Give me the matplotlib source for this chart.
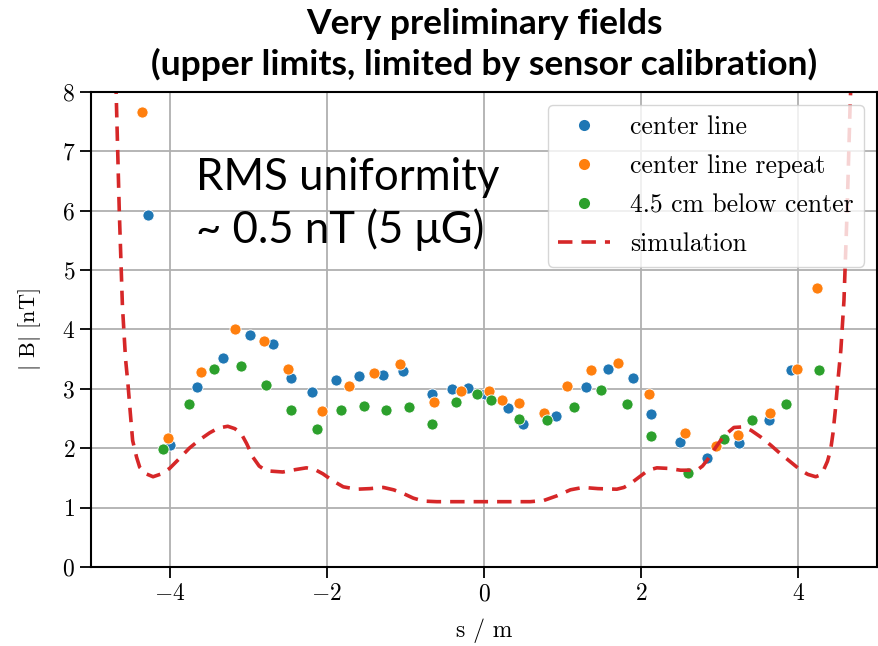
import numpy as np
import matplotlib
matplotlib.use("Agg")
import matplotlib.pyplot as plt

plt.rcParams['font.family'] = 'serif'
plt.rcParams['font.serif'] = ['cmr10', 'DejaVu Serif']
plt.rcParams['mathtext.fontset'] = 'cm'
plt.rcParams['axes.formatter.use_mathtext'] = True
plt.rcParams['axes.unicode_minus'] = True

# measured points (s in m, |B| in nT)
center_x = [-4.27, -3.99, -3.65, -3.32, -2.98, -2.68, -2.45, -2.19, -1.88, -1.59,
            -1.29, -1.03, -0.66, -0.41, -0.20, 0.01, 0.30, 0.50, 0.92, 1.30,
            1.58, 1.89, 2.13, 2.49, 2.84, 3.25, 3.62, 3.90]
center_y = [5.92, 2.05, 3.03, 3.52, 3.90, 3.76, 3.19, 2.95, 3.15, 3.22,
            3.24, 3.30, 2.92, 2.99, 3.02, 2.92, 2.67, 2.40, 2.54, 3.03,
            3.33, 3.19, 2.57, 2.11, 1.84, 2.09, 2.47, 3.31]

repeat_x = [-4.35, -4.02, -3.60, -3.17, -2.80, -2.49, -2.06, -1.72, -1.40, -1.07,
            -0.64, -0.29, 0.07, 0.23, 0.45, 0.77, 1.06, 1.36, 1.70, 2.10,
            2.56, 2.95, 3.23, 3.64, 3.98, 4.24]
repeat_y = [7.67, 2.18, 3.29, 4.01, 3.81, 3.33, 2.62, 3.04, 3.26, 3.42,
            2.78, 2.97, 2.96, 2.81, 2.77, 2.59, 3.04, 3.31, 3.43, 2.92,
            2.26, 2.03, 2.23, 2.60, 3.34, 4.70]

below_x = [-4.09, -3.75, -3.44, -3.09, -2.77, -2.45, -2.12, -1.82, -1.53, -1.25,
           -0.95, -0.66, -0.36, -0.09, 0.09, 0.45, 0.80, 1.14, 1.49, 1.82,
           2.12, 2.59, 3.05, 3.41, 3.84, 4.26]
below_y = [1.98, 2.75, 3.33, 3.38, 3.06, 2.64, 2.32, 2.64, 2.71, 2.64,
           2.70, 2.40, 2.78, 2.91, 2.81, 2.50, 2.48, 2.70, 2.98, 2.75,
           2.20, 1.58, 2.15, 2.48, 2.75, 3.31]

sim_x = [-4.70, -4.68, -4.64, -4.60, -4.56, -4.53, -4.50, -4.47, -4.42, -4.38,
         -4.30, -4.21, -4.10, -4.00, -3.88, -3.75, -3.62, -3.49, -3.38, -3.26,
         -3.17, -3.09, -3.02, -2.94, -2.86, -2.77, -2.56, -2.40, -2.26, -2.15,
         -2.05, -1.92, -1.79, -1.62, -1.45, -1.28, -1.15, -1.03, -0.90, -0.77,
         -0.60, -0.39, 0.00, 0.30, 0.59, 0.76, 0.93, 1.10, 1.26, 1.45,
         1.69, 1.78, 1.86, 1.95, 2.09, 2.20, 2.35, 2.50, 2.71, 2.78,
         2.84, 2.92, 3.01, 3.10, 3.18, 3.30, 3.40, 3.52, 3.65, 3.77,
         3.90, 4.03, 4.12, 4.22, 4.28, 4.32, 4.37, 4.41, 4.44, 4.47,
         4.50, 4.54, 4.58, 4.62, 4.66, 4.70]
sim_y = [9.00, 8.00, 6.00, 4.40, 3.50, 3.09, 2.60, 2.13, 1.85, 1.68,
         1.57, 1.52, 1.57, 1.66, 1.82, 2.00, 2.14, 2.26, 2.34, 2.37,
         2.33, 2.25, 2.08, 1.85, 1.70, 1.62, 1.60, 1.64, 1.67, 1.64,
         1.57, 1.45, 1.35, 1.31, 1.32, 1.34, 1.30, 1.24, 1.16, 1.11,
         1.10, 1.10, 1.10, 1.10, 1.10, 1.12, 1.20, 1.30, 1.34, 1.32,
         1.31, 1.34, 1.40, 1.49, 1.63, 1.67, 1.66, 1.63, 1.63, 1.70,
         1.80, 1.96, 2.13, 2.26, 2.35, 2.36, 2.30, 2.19, 2.05, 1.91,
         1.77, 1.63, 1.56, 1.52, 1.55, 1.63, 1.78, 1.97, 2.25, 2.64,
         3.10, 3.65, 4.49, 6.00, 7.86, 9.00]

fig = plt.figure(figsize=(8.79, 6.46), dpi=100)
ax = fig.add_axes([0.1035, 0.1223, 0.8942, 0.7353])

mk = dict(linestyle='none', marker='o', markersize=8,
          markeredgecolor='white', markeredgewidth=0.6)
ax.plot(center_x, center_y, color='#1f77b4', label='center line', **mk)
ax.plot(repeat_x, repeat_y, color='#ff7f0e', label='center line repeat', **mk)
ax.plot(below_x, below_y, color='#2ca02c', label='4.5 cm below center', **mk)
ax.plot(sim_x, sim_y, color='#d62728', linestyle='--', linewidth=2.6,
        dashes=(4, 2.5), label='simulation')

ax.set_xlim(-5, 5)
ax.set_ylim(0, 8)
ax.set_xticks([-4, -2, 0, 2, 4])
ax.set_yticks(range(0, 9))
ax.grid(True, color='#b0b0b0', linewidth=1.3)
ax.set_axisbelow(True)
for sp in ax.spines.values():
    sp.set_linewidth(1.5)
ax.tick_params(labelsize=17, length=8, width=1.3)
ax.set_xlabel('s / m', fontsize=17, labelpad=10)
ax.set_ylabel(r'$|$ B$|$ [nT]', fontsize=16, labelpad=13)

leg = ax.legend(loc='upper right', fontsize=18.5, numpoints=1,
                borderaxespad=0.5, handlelength=2.0, labelspacing=0.6)
for h in leg.legend_handles[:3]:
    h.set_markeredgewidth(0)

# annotation, one line per text so baselines sit where they do in the picture
note_font = ['Lato', 'DejaVu Sans']
ax.text(-3.66, 6.35, 'RMS uniformity', fontsize=31.5, family=note_font,
        va='baseline', ha='left')
ax.text(-3.66, 5.45, '~ 0.5 nT (5 μG)', fontsize=31.5, family=note_font,
        va='baseline', ha='left')

fig.suptitle('Very preliminary fields\n(upper limits, limited by sensor calibration)',
             x=0.551, y=0.988, fontsize=25.5, fontweight='bold',
             family=note_font, linespacing=1.3)

fig.savefig('out.png', dpi=100)
